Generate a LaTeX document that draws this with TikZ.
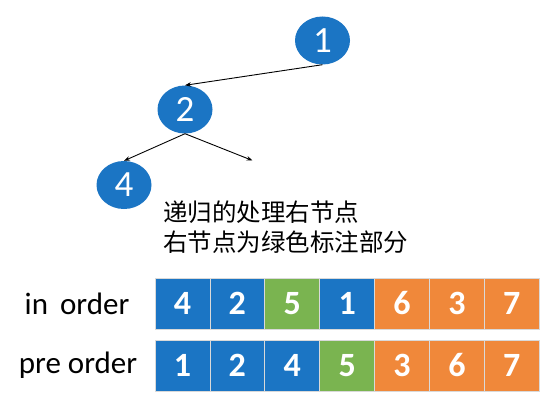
\documentclass[tikz,border=0pt]{standalone}
\usepackage{fontspec}
\setmainfont{Carlito}
\newfontfamily\cjk{Noto Sans CJK SC}
\usetikzlibrary{shapes.geometric,arrows.meta}
\definecolor{nblue}{HTML}{1B75C4}
\definecolor{ngreen}{HTML}{7AB450}
\definecolor{norange}{HTML}{F0883A}
\tikzset{
  x=1pt,y=-1pt,
  tnode/.style={ellipse,fill=nblue,draw=none,minimum width=55pt,minimum height=48pt,inner sep=0pt,
    text=white,font=\fontsize{37}{37}\selectfont},
  cell/.style={rectangle,fill=#1,draw=white!85!black,line width=0.7pt,minimum width=54.9pt,minimum height=51pt,
    inner sep=0pt,text=white,font=\fontsize{34}{34}\selectfont\bfseries},
  edge/.style={line width=0.9pt,-{Stealth[length=6pt,width=4.5pt]}},
  lbl/.style={font=\fontsize{31}{31}\selectfont,text=black,inner sep=0pt},
  cjktext/.style={font=\cjk\fontsize{24.5}{30}\selectfont,align=left,inner sep=0pt,anchor=north west}
}
\begin{document}
\begin{tikzpicture}
\useasboundingbox (0,0) rectangle (557,404);
\fill[white] (0,0) rectangle (557,404);
% tree
\node[tnode] (n1) at (322.5,40.5) {1};
\node[tnode] (n2) at (185,109.5) {2};
\node[tnode] (n4) at (124,185) {4};
\coordinate (r) at (252.5,160.5);
\draw[edge] (n1.south) -- (n2.north);
\draw[edge] (n2.south) -- (n4.north);
\draw[edge] (n2.south) -- (r);
% text
\node[cjktext] (t) at (163,201) {递归的处理右节点\\右节点为绿色标注部分};
% rows
\node[lbl] (lin) at (77,303.5) {in\hspace{12pt}order};
\node[lbl] (lpre) at (78,365.5) {pre order};
\foreach \v/\c [count=\i from 0] in {4/nblue,2/nblue,5/ngreen,1/nblue,6/norange,3/norange,7/norange}{
  \node[cell=\c] (a\i) at ({155+27.45+54.9*\i},303.5) {\v};
}
\foreach \v/\c [count=\i from 0] in {1/nblue,2/nblue,4/nblue,5/ngreen,3/norange,6/norange,7/norange}{
  \node[cell=\c] (b\i) at ({155+27.45+54.9*\i},365.5) {\v};
}
\end{tikzpicture}
\end{document}
